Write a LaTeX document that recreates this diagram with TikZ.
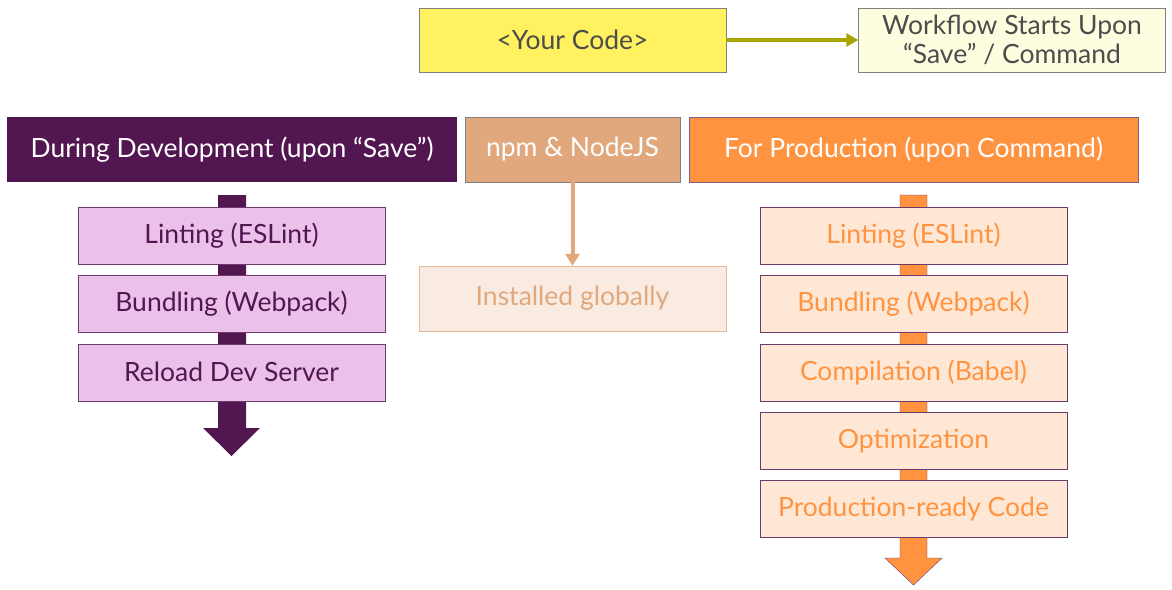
\documentclass[tikz,border=0pt]{standalone}
\usepackage{fontspec}
\setmainfont{Lato}
\usetikzlibrary{positioning,arrows.meta}
\definecolor{plum}{HTML}{521751}
\definecolor{lilac}{HTML}{EBC1EA}
\definecolor{tan}{HTML}{E0A87C}
\definecolor{paletan}{HTML}{FAEBE2}
\definecolor{carrot}{HTML}{FF9340}
\definecolor{peach}{HTML}{FFE7D5}
\definecolor{olive}{HTML}{ABA300}
\tikzset{
  box/.style={draw, minimum height=57pt, minimum width=307pt, inner sep=0pt, font=\fontsize{26.5}{29}\selectfont},
  head/.style={minimum height=65pt, inner sep=0pt, font=\fontsize{26.5}{29}\selectfont, text=white},
  devbox/.style={box, fill=lilac, draw=plum!85, text=plum},
  prodbox/.style={box, fill=peach, draw=plum!85, text=carrot}
}
\begin{document}
\begin{tikzpicture}[x=1pt,y=-1pt]
\useasboundingbox (0,0) rectangle (1172,589);
% top row
\node[box, draw=gray, fill=yellow!60!white!95!orange, minimum height=64pt, text=black!70] (code) at (572.5,40) {<Your Code>};
\node[box, draw=gray, fill=yellow!12, minimum height=64pt, text=black!70, align=center] (start) at (1012,40) {Workflow Starts Upon\\“Save” / Command};
\draw[olive, line width=4pt, -{Triangle[length=12pt,width=13pt]}] (code) -- (start);
% headers
\node[head, fill=plum, minimum width=450pt] (dev) at (232,149.5) {During Development (upon “Save”)};
\node[head, fill=tan, draw=gray, minimum width=215pt] (npm) at (572.5,149.5) {npm \& NodeJS};
\node[head, fill=carrot, draw=plum!70, minimum width=449pt] (prod) at (913.5,149.5) {For Production (upon Command)};
% fat arrows
\fill[plum] (218,195) -- (246,195) -- (246,428) -- (260,428) -- (231.5,456) -- (203,428) -- (218,428) -- cycle;
\filldraw[fill=carrot, draw=plum!85] (900,195) -- (927,195) -- (927,558) -- (942,558) -- (913.5,585) -- (885,558) -- (900,558) -- cycle;
% development
\node[devbox] (lint) at (231.5,235.5) {Linting (ESLint)};
\node[devbox, below=11pt of lint] (bundle) {Bundling (Webpack)};
\node[devbox, below=11pt of bundle] (reload) {Reload Dev Server};
% npm
\node[box, fill=paletan, draw=tan!80, text=tan, minimum height=65pt] (global) at (572.5,298.5) {Installed globally};
\draw[tan, line width=4pt, -{Triangle[length=12pt,width=14pt]}] (npm) -- (global);
% production
\node[prodbox] (plint) at (913.5,235.5) {Linting (ESLint)};
\node[prodbox, below=11pt of plint] (pbundle) {Bundling (Webpack)};
\node[prodbox, below=11pt of pbundle] (babel) {Compilation (Babel)};
\node[prodbox, below=11pt of babel] (optim) {Optimization};
\node[prodbox, below=11pt of optim] (ready) {Production-ready Code};
\end{tikzpicture}
\end{document}
